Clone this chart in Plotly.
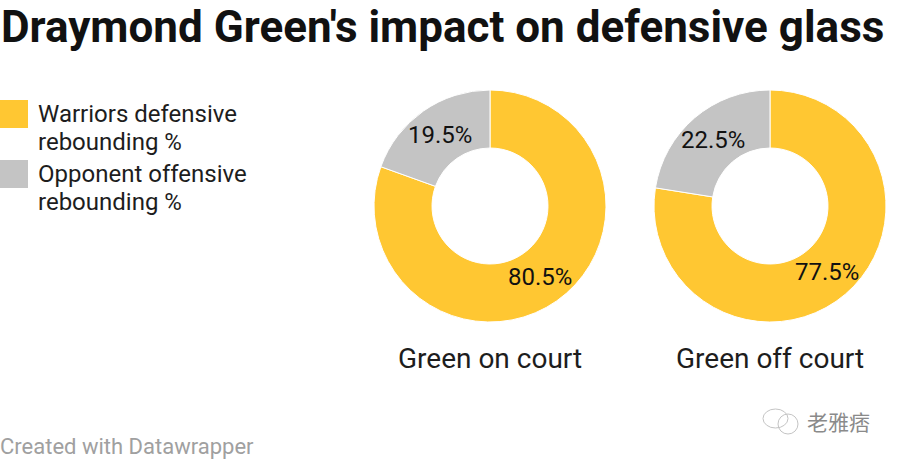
import math
import plotly.graph_objects as go

W, H = 900, 460

legend_lines = [["Warriors defensive", "rebounding %"], ["Opponent offensive", "rebounding %"]]
slices = ["Warriors defensive rebounding %", "Opponent offensive rebounding %"]
on_court = [80.5, 19.5]
off_court = [77.5, 22.5]
captions = ["Green on court", "Green off court"]
colors = ["#FFC732", "#C4C4C4"]

FONT = "Roboto"
INK = "#1d1d1d"
R_OUT = 116
R_MID = 87  # middle of the ring, where the labels sit


def px_x(x):
    return x / W


def px_y(y):
    return 1 - y / H


def donut(values, cx):
    return go.Pie(
        labels=slices,
        values=values,
        sort=False,
        direction="clockwise",
        rotation=0,
        hole=0.5,
        domain=dict(x=[px_x(cx - R_OUT), px_x(cx + R_OUT)], y=[px_y(206 + R_OUT), px_y(206 - R_OUT)]),
        marker=dict(colors=colors, line=dict(color="white", width=1)),
        textinfo="none",
        showlegend=False,
    )


fig = go.Figure()
fig.add_trace(donut(on_court, 490))
fig.add_trace(donut(off_court, 770))


def text(x, y, s, size, color=INK, anchor="left", family=FONT):
    fig.add_annotation(
        x=px_x(x), y=px_y(y), xref="paper", yref="paper", text=s, showarrow=False,
        xanchor=anchor, yanchor="middle", align="left",
        font=dict(family=family, size=size, color=color),
        borderpad=0,
    )


def slice_labels(values, cx):
    # plotly pulls the label of a big slice to the bottom, so place them by hand
    start = 0
    for v in values:
        ang = 2 * math.pi * (start + v / 2) / sum(values)
        text(cx + R_MID * math.sin(ang), 206 - R_MID * math.cos(ang), f"{v}%", 24,
             color="#111111", anchor="center")
        start += v


slice_labels(on_court, 490)
slice_labels(off_court, 770)

text(0, 27, "<b>Draymond Green's impact on defensive glass</b>", 44, color="#111111")

# hand-made legend, the big square swatches are not available in the native one
for top, color, lines in zip([100, 160], colors, legend_lines):
    fig.add_shape(type="rect", xref="paper", yref="paper", x0=0, x1=px_x(28),
                  y0=px_y(top), y1=px_y(top + 28), fillcolor=color, line_width=0)
    text(37, top + 14, lines[0], 24)
    text(37, top + 42, lines[1], 24)

text(490, 358, captions[0], 28, anchor="center")
text(770, 358, captions[1], 28, anchor="center")
text(-1, 446, "Created with Datawrapper", 22, color="#a0a0a0")

# watermark
for x0, y0, x1, y1 in [(763, 409, 788, 428), (778, 414, 798, 434)]:
    fig.add_shape(type="circle", xref="paper", yref="paper", x0=px_x(x0), x1=px_x(x1),
                  y0=px_y(y0), y1=px_y(y1), line=dict(color="#c4c4c4", width=1),
                  fillcolor="rgba(255,255,255,0)")
text(806, 421, "老雅痞", 21, color="#8a8a8a", family="Noto Sans CJK SC")

fig.update_layout(
    width=W, height=H, margin=dict(l=0, r=0, t=0, b=0),
    paper_bgcolor="white", plot_bgcolor="white",
)

fig.write_html("out.html", config=dict(displayModeBar=False),
               post_script="document.body.style.margin='0';")
